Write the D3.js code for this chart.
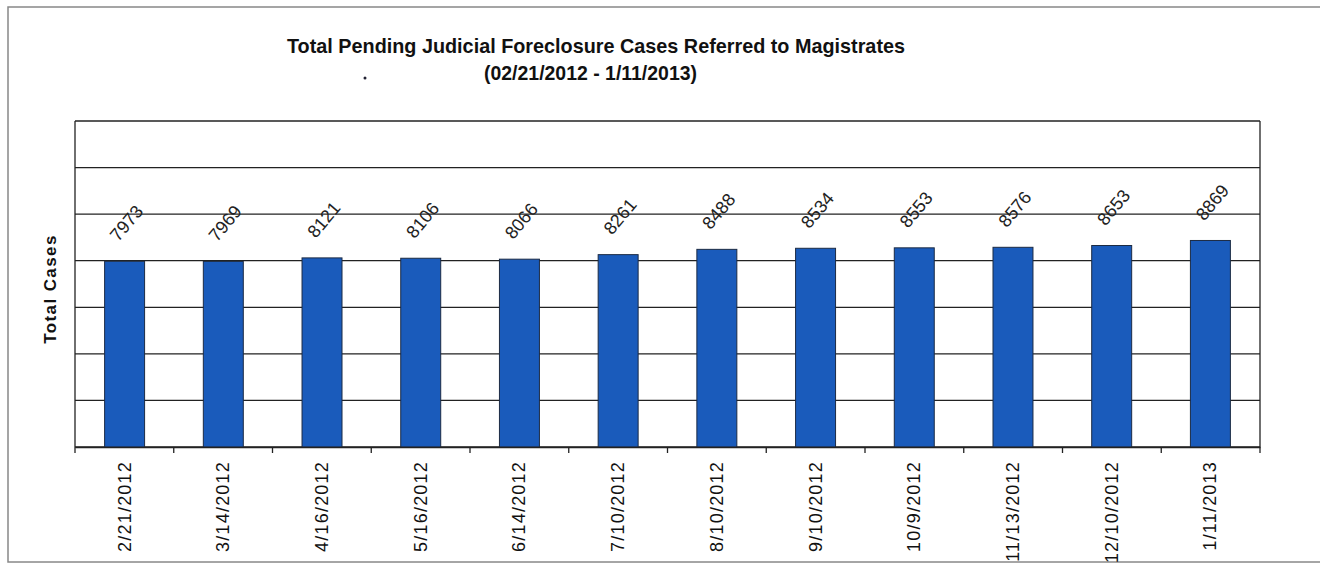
<!DOCTYPE html>
<meta charset="utf-8">
<style>
body { margin: 0; background: #fff; }
text { font-family: Arial, "Liberation Sans", sans-serif; }
.grid line { stroke: #222; stroke-width: 1.3px; }
.bar { fill: #1a5bbb; stroke: #1c2b44; stroke-width: 1px; }
.vlabel { font-size: 18px; fill: #222; }
.xlabel { font-size: 18px; fill: #111; letter-spacing: 1.2px; }
</style>
<svg width="1320" height="565"></svg>
<script src="https://d3js.org/d3.v7.min.js"></script>
<script>

var dates = ["2/21/2012", "3/14/2012", "4/16/2012", "5/16/2012", "6/14/2012", "7/10/2012",
             "8/10/2012", "9/10/2012", "10/9/2012", "11/13/2012", "12/10/2012", "1/11/2013"];
var cases = [7973, 7969, 8121, 8106, 8066, 8261, 8488, 8534, 8553, 8576, 8653, 8869];
var gridValues = [0, 2000, 4000, 6000, 8000, 10000, 12000, 14000];

var svg = d3.select("svg");

// scanned page frame
svg.append("rect")
    .attr("x", 8).attr("y", 7)
    .attr("width", 1330).attr("height", 555)
    .attr("fill", "none")
    .attr("stroke", "#888")
    .attr("stroke-width", 1.5);

var plotLeft = 75, plotRight = 1260, plotTop = 121, plotBottom = 447;

var x = d3.scaleBand()
    .domain(dates)
    .range([plotLeft, plotRight])
    .paddingInner(0.595)
    .paddingOuter(0.3);

var y = d3.scaleLinear()
    .domain([0, 14000])
    .range([plotBottom, plotTop]);

// gridlines
svg.append("g")
    .attr("class", "grid")
    .selectAll("line")
    .data(gridValues)
    .enter().append("line")
      .attr("x1", plotLeft)
      .attr("x2", plotRight)
      .attr("y1", function(d) { return y(d); })
      .attr("y2", function(d) { return y(d); });

// left and right edges of the plot
svg.append("line")
    .attr("x1", plotLeft).attr("x2", plotLeft)
    .attr("y1", plotTop).attr("y2", plotBottom)
    .attr("stroke", "#222").attr("stroke-width", 1.3);
svg.append("line")
    .attr("x1", plotRight).attr("x2", plotRight)
    .attr("y1", plotTop).attr("y2", plotBottom)
    .attr("stroke", "#222").attr("stroke-width", 1.3);

// bars
svg.append("g")
    .selectAll("rect")
    .data(cases)
    .enter().append("rect")
      .attr("class", "bar")
      .attr("x", function(d, i) { return x(dates[i]); })
      .attr("width", x.bandwidth())
      .attr("y", function(d) { return y(d); })
      .attr("height", function(d) { return plotBottom - y(d); });

// bottom axis, ticks between categories
var xAxis = d3.axisBottom(x).tickSize(0).tickFormat("");
var gx = svg.append("g")
    .attr("transform", "translate(0," + plotBottom + ")")
    .call(xAxis);
gx.select(".domain").attr("stroke", "#222").attr("stroke-width", 1.3);

var boundaries = d3.range(dates.length + 1).map(function(i) {
  return plotLeft + (plotRight - plotLeft) * i / dates.length;
});
gx.selectAll(".sep")
    .data(boundaries)
    .enter().append("line")
      .attr("class", "sep")
      .attr("x1", function(d) { return d; })
      .attr("x2", function(d) { return d; })
      .attr("y1", 0).attr("y2", 6)
      .attr("stroke", "#222").attr("stroke-width", 1.3);

// date labels
svg.append("g")
    .selectAll("text")
    .data(dates)
    .enter().append("text")
      .attr("class", "xlabel")
      .attr("text-anchor", "end")
      .attr("transform", function(d) {
        return "translate(" + (x(d) + x.bandwidth() / 2 + 6) + "," + (plotBottom + 14) + ") rotate(-90)";
      })
      .text(function(d) { return d; });

// value labels
svg.append("g")
    .selectAll("text")
    .data(cases)
    .enter().append("text")
      .attr("class", "vlabel")
      .attr("text-anchor", "middle")
      .attr("dominant-baseline", "central")
      .attr("transform", function(d, i) {
        return "translate(" + (x(dates[i]) + x.bandwidth() / 2 + 2) + "," + (y(d) - 38) + ") rotate(-50)";
      })
      .text(function(d) { return d; });

// y axis title
svg.append("text")
    .attr("transform", "translate(56,289) rotate(-90)")
    .attr("text-anchor", "middle")
    .style("font-size", "17px")
    .style("font-weight", "bold")
    .style("letter-spacing", "1.4px")
    .attr("fill", "#111")
    .text("Total Cases");

// chart title
svg.append("text")
    .attr("x", 287).attr("y", 53)
    .attr("textLength", 618)
    .attr("lengthAdjust", "spacingAndGlyphs")
    .style("font-family", "'Liberation Sans Narrow', 'Arial Narrow', Arial, sans-serif")
    .style("font-size", "21px")
    .style("font-weight", "bold")
    .attr("fill", "#111")
    .text("Total Pending Judicial Foreclosure Cases Referred to Magistrates");

svg.append("text")
    .attr("x", 484).attr("y", 80)
    .attr("textLength", 213)
    .attr("lengthAdjust", "spacingAndGlyphs")
    .style("font-family", "'Liberation Sans Narrow', 'Arial Narrow', Arial, sans-serif")
    .style("font-size", "21px")
    .style("font-weight", "bold")
    .attr("fill", "#111")
    .text("(02/21/2012  - 1/11/2013)");

// small speck from the scan
svg.append("circle")
    .attr("cx", 365).attr("cy", 78).attr("r", 1.5)
    .attr("fill", "#223");

</script>
